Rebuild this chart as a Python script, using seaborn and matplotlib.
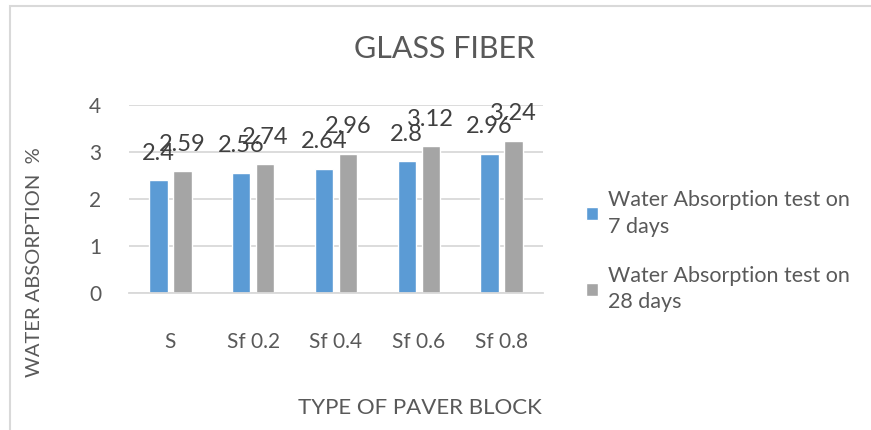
import matplotlib
matplotlib.use('Agg')
import matplotlib.pyplot as plt
import matplotlib.patches as mpatches
import pandas as pd
import seaborn as sns

blocks = ['S', 'Sf 0.2', 'Sf 0.4', 'Sf 0.6', 'Sf 0.8']
days7 = [2.4, 2.56, 2.64, 2.8, 2.96]
days28 = [2.59, 2.74, 2.96, 3.12, 3.24]
series = ['Water Absorption test on\n7 days', 'Water Absorption test on\n28 days']
colors = ['#5B9BD5', '#A5A5A5']

df = pd.DataFrame({
    'Block': blocks * 2,
    'Value': days7 + days28,
    'Series': [series[0]] * len(blocks) + [series[1]] * len(blocks),
})

sns.set_style('white')
plt.rcParams['font.family'] = ['Lato', 'DejaVu Sans']
txt = '#595959'

fig = plt.figure(figsize=(8.71, 4.30), dpi=100)
ax = fig.add_axes([129 / 871, 1 - 293 / 430, 414 / 871, 188 / 430])

sns.barplot(data=df, x='Block', y='Value', hue='Series', palette=colors,
            width=0.58, gap=0.24, ax=ax, saturation=1, legend=True)

for c in ax.containers:
    ax.bar_label(c, labels=[f'{v:g}' for v in c.datavalues], padding=12,
                 fontsize=17, color='#404040')

ax.set_ylim(0, 4)
ax.set_yticks([0, 1, 2, 3, 4])
ax.yaxis.grid(True, color='#d9d9d9', linewidth=1.3)
ax.set_axisbelow(True)
for s in ['top', 'right', 'left']:
    ax.spines[s].set_visible(False)
ax.spines['bottom'].set_color('#d9d9d9')
ax.spines['bottom'].set_linewidth(1.3)
ax.tick_params(axis='both', length=0, colors=txt)
ax.tick_params(axis='y', labelsize=15, pad=20)
ax.tick_params(axis='x', labelsize=15, pad=28)

ax.set_xlabel('TYPE OF PAVER BLOCK', fontsize=16, color=txt)
ax.xaxis.set_label_coords((420 - 129) / 414, (293 - 398) / 188)
ax.set_ylabel('WATER ABSORPTION  %', fontsize=14.5, color=txt)
ax.yaxis.set_label_coords((43 - 129) / 414, (293 - 262) / 188)
fig.text(444 / 871, 1 - 49 / 430, 'GLASS FIBER', fontsize=22,
         color=txt, ha='center', va='center')

leg = ax.legend(loc='upper left', bbox_to_anchor=(567 / 871, 1 - 171 / 430),
                bbox_transform=fig.transFigure, frameon=False, fontsize=15.5,
                labelcolor=txt, handlelength=0.55, handleheight=0.55,
                handletextpad=0.45, labelspacing=1.35)
for t in leg.get_texts():
    t.set_linespacing(1.4)

fig.patches.append(mpatches.Rectangle((10 / 871, -0.1), 1.2, 1 - 6 / 430 + 0.1,
                                      transform=fig.transFigure, fill=False,
                                      edgecolor='#d9d9d9', linewidth=1.5))

fig.savefig('out.png', dpi=100)
